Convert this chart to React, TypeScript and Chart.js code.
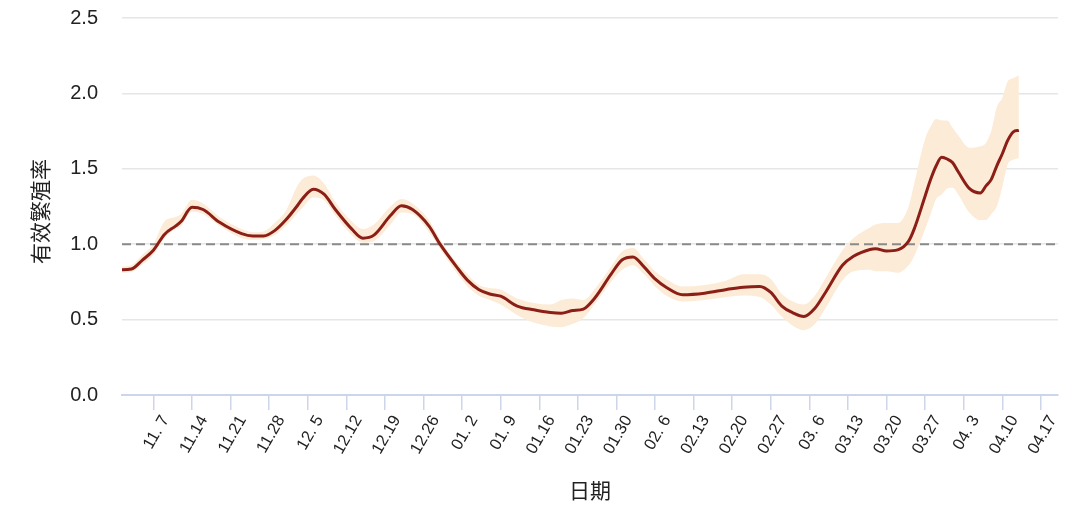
import React, { useEffect, useRef } from "react";
import { Chart, registerables } from "chart.js";

Chart.register(...registerables);

// Day offsets counted from 11.1
const DAYS = [0, 2, 4, 6, 8, 10, 11, 13, 15, 18, 22, 24, 26, 28, 30, 32, 33, 35, 37, 39, 42, 44, 46, 49, 51, 53, 56, 58, 61, 63, 65, 67, 69, 72, 75, 78, 80, 82, 84, 86, 89, 91, 93, 95, 97, 99, 102, 106, 110, 113, 116, 118, 120, 122, 124, 126, 128, 131, 133, 136, 137, 139, 141, 143, 144, 146, 147, 148, 149, 150, 151, 152, 154, 156, 157, 158, 159, 160, 161, 162, 163];

const R_MEAN = [0.83, 0.835, 0.895, 0.96, 1.065, 1.12, 1.15, 1.245, 1.23, 1.145, 1.07, 1.055, 1.055, 1.09, 1.16, 1.25, 1.3, 1.365, 1.33, 1.23, 1.1, 1.04, 1.06, 1.19, 1.255, 1.23, 1.12, 1.0, 0.85, 0.76, 0.7, 0.67, 0.655, 0.59, 0.565, 0.547, 0.542, 0.56, 0.57, 0.64, 0.8, 0.895, 0.915, 0.85, 0.77, 0.715, 0.665, 0.675, 0.7, 0.715, 0.72, 0.68, 0.59, 0.545, 0.52, 0.575, 0.685, 0.86, 0.92, 0.965, 0.97, 0.955, 0.962, 1.02, 1.1, 1.32, 1.43, 1.52, 1.576, 1.565, 1.54, 1.48, 1.37, 1.34, 1.385, 1.43, 1.52, 1.6, 1.69, 1.745, 1.755];

const R_UPPER = [0.85, 0.86, 0.93, 1.0, 1.15, 1.18, 1.2, 1.295, 1.27, 1.18, 1.1, 1.08, 1.085, 1.14, 1.22, 1.38, 1.43, 1.455, 1.4, 1.28, 1.15, 1.1, 1.13, 1.25, 1.3, 1.27, 1.16, 1.03, 0.88, 0.8, 0.73, 0.71, 0.7, 0.64, 0.61, 0.6, 0.63, 0.64, 0.63, 0.7, 0.85, 0.95, 0.975, 0.9, 0.82, 0.77, 0.72, 0.73, 0.76, 0.8, 0.8, 0.77, 0.67, 0.62, 0.6, 0.66, 0.78, 0.96, 1.04, 1.11, 1.13, 1.14, 1.14, 1.25, 1.4, 1.7, 1.78, 1.83, 1.82, 1.82, 1.77, 1.72, 1.64, 1.65, 1.67, 1.75, 1.91, 1.97, 2.08, 2.1, 2.12];

const R_LOWER = [0.81, 0.815, 0.865, 0.93, 1.04, 1.1, 1.12, 1.215, 1.2, 1.12, 1.04, 1.03, 1.035, 1.06, 1.12, 1.2, 1.24, 1.31, 1.29, 1.19, 1.06, 1.01, 1.02, 1.13, 1.21, 1.2, 1.08, 0.97, 0.81, 0.72, 0.66, 0.63, 0.6, 0.53, 0.48, 0.455, 0.45, 0.47, 0.51, 0.6, 0.75, 0.83, 0.86, 0.8, 0.72, 0.66, 0.62, 0.63, 0.65, 0.66, 0.65, 0.6, 0.52, 0.46, 0.43, 0.47, 0.58, 0.76, 0.82, 0.83, 0.82, 0.82, 0.81, 0.86, 0.92, 1.1, 1.2, 1.3, 1.33, 1.37, 1.375, 1.33, 1.21, 1.16, 1.16, 1.2, 1.25, 1.38, 1.53, 1.56, 1.57];

const TICK_DAYS = [6, 13, 20, 27, 34, 41, 48, 55, 62, 69, 76, 83, 90, 97, 104, 111, 118, 125, 132, 139, 146, 153, 160, 167];
const TICK_LABELS = ["11. 7", "11.14", "11.21", "11.28", "12. 5", "12.12", "12.19", "12.26", "01. 2", "01. 9", "01.16", "01.23", "01.30", "02. 6", "02.13", "02.20", "02.27", "03. 6", "03.13", "03.20", "03.27", "04. 3", "04.10", "04.17"];

const THRESHOLD = 1.0;
const X_MIN = 0.3;
const X_MAX = 170.1;
const Y_MIN = 0;
const Y_MAX = 2.5;
const Y_STEP = 0.5;

const X_TITLE = "日期";
const Y_TITLE = "有效繁殖率";

const FONT = '"Liberation Sans", Arial, "Noto Sans CJK SC", sans-serif';
const TEXT = "#222222";

const textPlugin = {
  id: "customTexts",
  afterDraw(chart: any) {
    const s = chart.scales.x;
    const ctx = chart.ctx;
    ctx.save();
    ctx.font = `16.5px ${FONT}`;
    ctx.fillStyle = TEXT;
    ctx.textAlign = "right";
    ctx.textBaseline = "middle";
    TICK_DAYS.forEach((d, i) => {
      const x = s.getPixelForValue(d);
      ctx.save();
      ctx.translate(x + 12, s.top + 22);
      ctx.rotate(-Math.PI / 3);
      ctx.fillText(TICK_LABELS[i], 0, 0);
      ctx.restore();
    });
    // y-axis title
    const area = chart.chartArea;
    ctx.font = `21px ${FONT}`;
    ctx.textAlign = "center";
    ctx.textBaseline = "middle";
    ctx.save();
    ctx.translate(42, (area.top + area.bottom) / 2 + 5);
    ctx.rotate(-Math.PI / 2);
    ctx.fillText(Y_TITLE, 0, 0);
    ctx.restore();
    ctx.restore();
  },
};

export default function App() {
  const ref = useRef<HTMLCanvasElement | null>(null);

  useEffect(() => {
    if (!ref.current) return;
    const toPts = (arr: number[]) => DAYS.map((d, i) => ({ x: d, y: arr[i] }));
    const chart = new Chart(ref.current, {
      type: "line",
      data: {
        datasets: [
          {
            label: "R",
            data: toPts(R_MEAN),
            borderColor: "#8b1e16",
            borderWidth: 3,
            pointRadius: 0,
            fill: false,
            cubicInterpolationMode: "monotone",
          },
          {
            label: "threshold",
            data: [
              { x: X_MIN, y: THRESHOLD },
              { x: X_MAX, y: THRESHOLD },
            ],
            borderColor: "#8a8a8a",
            borderWidth: 2,
            borderDash: [9, 5],
            pointRadius: 0,
            fill: false,
          },
          {
            label: "upper",
            data: toPts(R_UPPER),
            borderWidth: 0,
            borderColor: "rgba(0,0,0,0)",
            backgroundColor: "#fcebd6",
            pointRadius: 0,
            fill: "+1",
            cubicInterpolationMode: "monotone",
          },
          {
            label: "lower",
            data: toPts(R_LOWER),
            borderWidth: 0,
            borderColor: "rgba(0,0,0,0)",
            pointRadius: 0,
            fill: false,
            cubicInterpolationMode: "monotone",
          },
        ],
      },
      options: {
        responsive: false,
        animation: false,
        events: [],
        layout: { padding: { top: 18, right: 22, bottom: 0, left: 0 } },
        plugins: {
          legend: { display: false },
          tooltip: { enabled: false },
        },
        scales: {
          x: {
            type: "linear",
            min: X_MIN,
            max: X_MAX,
            afterBuildTicks: (s: any) => {
              s.ticks = TICK_DAYS.map((v) => ({ value: v }));
            },
            afterFit: (s: any) => {
              s.height = 121;
              s.paddingLeft = 0;
              s.paddingRight = 0;
            },
            ticks: {
              display: false,
              autoSkip: false,
            },
            grid: {
              drawOnChartArea: false,
              drawTicks: true,
              tickLength: 15,
              color: "#ccd6eb",
              lineWidth: 1.5,
            },
            border: { display: true, color: "#ccd6eb", width: 2 },
            title: {
              display: true,
              text: X_TITLE,
              color: TEXT,
              font: { family: FONT, size: 21 },
              padding: { top: 0, bottom: 11 },
            },
          },
          y: {
            min: Y_MIN,
            max: Y_MAX,
            afterFit: (s: any) => {
              s.width = 122;
              s.paddingTop = 0;
              s.paddingBottom = 0;
            },
            ticks: {
              stepSize: Y_STEP,
              padding: 24,
              color: TEXT,
              font: { family: FONT, size: 20 },
              callback: (v: any) => Number(v).toFixed(1),
            },
            grid: { color: "#e6e6e6", lineWidth: 1.5, drawTicks: false },
            border: { display: false },
            title: { display: false },
          },
        },
      },
      plugins: [textPlugin],
    });
    return () => chart.destroy();
  }, []);

  return (
    <div style={{ position: "fixed", left: 0, top: 0, width: 1080, height: 516, background: "#fff" }}>
      <canvas ref={ref} width={1080} height={516} />
    </div>
  );
}
